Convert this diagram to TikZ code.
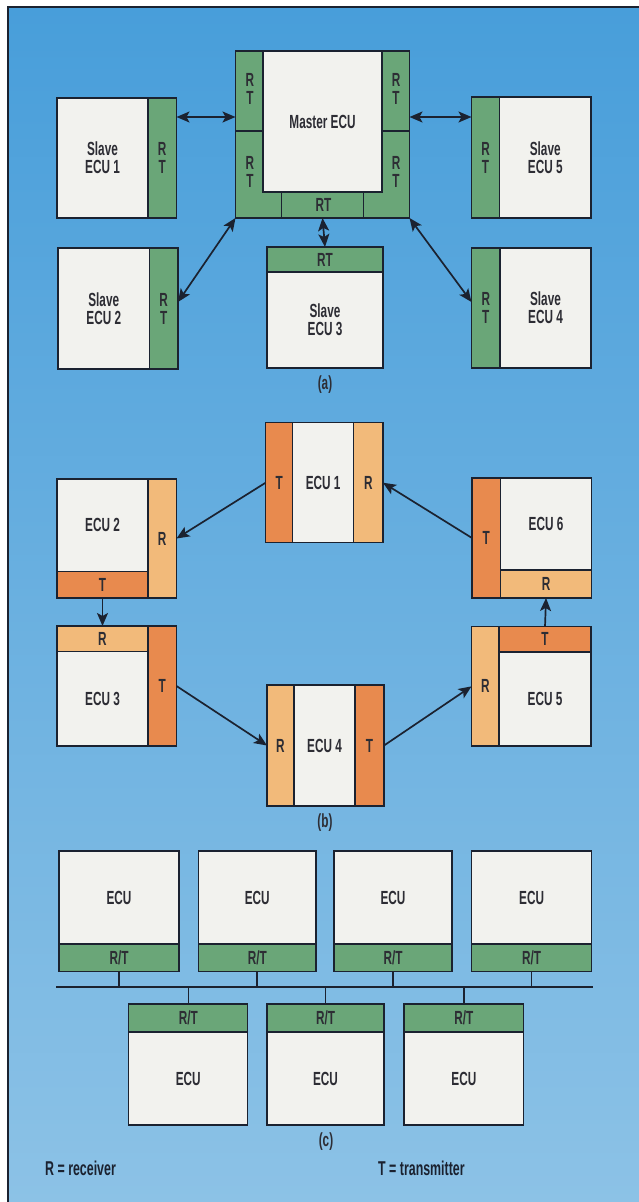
\documentclass[tikz,border=0pt]{standalone}
\usepackage{fontspec}
\setmainfont{Liberation Sans}[FakeStretch=0.62]
\usepackage{tikz}
\usetikzlibrary{arrows.meta}
\definecolor{bgtop}{RGB}{72,158,218}
\definecolor{bgbot}{RGB}{140,194,230}
\definecolor{ecupaper}{RGB}{242,242,238}
\definecolor{rtgreen}{RGB}{106,166,120}
\definecolor{txorange}{RGB}{232,138,78}
\definecolor{rxorange}{RGB}{242,186,122}
\definecolor{inkline}{RGB}{27,34,48}
\definecolor{inktext}{RGB}{45,45,52}

\begin{document}
\begin{tikzpicture}[x=1pt,y=-1pt]
  \tikzset{sz/.style 2 args={minimum width=#1,minimum height=#2}}
  \tikzset{panel/.style={draw=inkline,line width=1.3pt,inner sep=0pt,outer sep=0pt,text=inktext,align=center,
      font=\bfseries\fontsize{19}{18}\selectfont}}
  \tikzset{whitebox/.style={panel,fill=ecupaper}}
  \tikzset{rtbox/.style={panel,fill=rtgreen}}
  \tikzset{txbox/.style={panel,fill=txorange}}
  \tikzset{rxbox/.style={panel,fill=rxorange}}
  \tikzset{stripname/.style={inner sep=0pt,text=inktext,align=center,font=\bfseries\fontsize{19}{18}\selectfont}}
  \tikzset{divider/.style={draw=inkline,line width=1.3pt}}
  \tikzset{biarrow/.style={draw=inkline,line width=1.7pt,{Stealth[length=13pt,width=11pt,inset=3pt]}-{Stealth[length=13pt,width=11pt,inset=3pt]}}}
  \tikzset{onearrow/.style={draw=inkline,line width=1.7pt,-{Stealth[length=13pt,width=11pt,inset=3pt]}}}
  \tikzset{busline/.style={draw=inkline,line width=1.6pt}}
  \tikzset{caption/.style={inner sep=0pt,text=inktext,font=\bfseries\fontsize{19}{18}\selectfont}}
  \tikzset{legend/.style={inner sep=0pt,anchor=west,text=inkline,font=\bfseries\fontsize{20}{20}\selectfont}}
  \useasboundingbox (0,0) rectangle (639,1202);
  \fill[white] (0,0) rectangle (639,1202);
  \shade[top color=bgtop,bottom color=bgbot] (8,7) rectangle (639,1202);
  \draw[draw=inkline,line width=1.5pt] (8,1202) -- (8,7) -- (639,7);

  \node[whitebox,sz={91}{120}] (se1) at (102.5,158) {Slave\\ECU 1};
  \node[rtbox,sz={28.5}{120},anchor=west] (se1rt) at (se1.east) {R\\T};
  \node[rtbox,sz={174}{167}] (mframe) at (322.5,134.5) {};
  \node[whitebox,sz={119}{141},anchor=north] (master) at (mframe.north) {Master ECU};
  \draw[divider] (mframe.west |- 0,131) -- (master.west |- 0,131);
  \draw[divider] (master.east |- 0,131) -- (mframe.east |- 0,131);
  \draw[divider] (master.south west) ++(18.5,0) -- ++(0,26);
  \draw[divider] (master.south east) ++(-18.5,0) -- ++(0,26);
  \node[stripname] (mrt1) at (250,89) {R\\T};
  \node[stripname] (mrt2) at (250,172) {R\\T};
  \node[stripname] (mrt3) at (396,89) {R\\T};
  \node[stripname] (mrt4) at (396,172) {R\\T};
  \node[stripname] (mrt5) at (323.5,205) {RT};
  \node[whitebox,sz={91.5}{121}] (se5) at (545.25,157.5) {Slave\\ECU 5};
  \node[rtbox,sz={28}{121},anchor=east] (se5rt) at (se5.west) {R\\T};
  \node[whitebox,sz={91.5}{121}] (se2) at (103.75,308.5) {Slave\\ECU 2};
  \node[rtbox,sz={28.5}{121},anchor=west] (se2rt) at (se2.east) {R\\T};
  \node[whitebox,sz={116}{96}] (se3) at (325,320) {Slave\\ECU 3};
  \node[rtbox,sz={116}{25},anchor=south] (se3rt) at (se3.north) {RT};
  \node[whitebox,sz={91}{120}] (se4) at (545.5,308) {Slave\\ECU 4};
  \node[rtbox,sz={28.5}{120},anchor=east] (se4rt) at (se4.west) {R\\T};
  \draw[biarrow] (se1rt.east |- 0,117) -- (mframe.west |- 0,117);
  \draw[biarrow] (mframe.east |- 0,117) -- (se5rt.west |- 0,117);
  \draw[biarrow] (mframe.south) -- (se3rt.north);
  \draw[biarrow] (mframe.south west) -- (se2rt.east |- 0,302);
  \draw[biarrow] (mframe.south east) -- (se4rt.west |- 0,302);
  \node[caption] (capa) at (325,385) {(a)};

  \node[whitebox,sz={61}{120}] (e1) at (323.15,482.7) {ECU 1};
  \node[txbox,sz={27}{120},anchor=east] (e1t) at (e1.west) {T};
  \node[rxbox,sz={29.3}{120},anchor=west] (e1r) at (e1.east) {R};
  \node[whitebox,sz={91}{92.7}] (e2) at (102.5,525.35) {ECU 2};
  \node[txbox,sz={91}{26.3},anchor=north] (e2t) at (e2.south) {T};
  \node[rxbox,sz={28.5}{119},anchor=north west] (e2r) at (e2.north east) {R};
  \node[whitebox,sz={91.3}{92}] (e6) at (546.05,524) {ECU 6};
  \node[rxbox,sz={91.3}{28},anchor=north] (e6r) at (e6.south) {R};
  \node[txbox,sz={28.4}{120},anchor=north east] (e6t) at (e6.north west) {T};
  \node[whitebox,sz={91}{94.3}] (e3) at (102.5,698.85) {ECU 3};
  \node[rxbox,sz={91}{25.7},anchor=south] (e3r) at (e3.north) {R};
  \node[txbox,sz={28.5}{120},anchor=south west] (e3t) at (e3.south east) {T};
  \node[whitebox,sz={92}{94}] (e5) at (545,699) {ECU 5};
  \node[txbox,sz={92}{25.3},anchor=south] (e5t) at (e5.north) {T};
  \node[rxbox,sz={27.5}{119.3},anchor=south east] (e5r) at (e5.south west) {R};
  \node[whitebox,sz={61}{121}] (e4) at (324.5,745.5) {ECU 4};
  \node[rxbox,sz={27}{121},anchor=east] (e4r) at (e4.west) {R};
  \node[txbox,sz={29}{121},anchor=west] (e4t) at (e4.east) {T};
  \draw[onearrow] (e1t.west) -- (e2r.east);
  \draw[onearrow] (e6t.west) -- (e1r.east);
  \draw[onearrow] (e2t.south) -- (e3r.north);
  \draw[onearrow] (e3t.east) -- (e4r.west);
  \draw[onearrow] (e4t.east) -- (e5r.west);
  \draw[onearrow] (e5t.north) -- (e6r.south);
  \node[caption] (capb) at (325,823) {(b)};

  \node[whitebox,sz={120}{93}] (c1) at (119,897.5) {ECU};
  \node[rtbox,sz={120}{27.7},anchor=north] (c1rt) at (c1.south) {R/T};
  \node[whitebox,sz={117.5}{93}] (c2) at (257.25,897.5) {ECU};
  \node[rtbox,sz={117.5}{27.7},anchor=north] (c2rt) at (c2.south) {R/T};
  \node[whitebox,sz={118}{93}] (c3) at (393,897.5) {ECU};
  \node[rtbox,sz={118}{27.7},anchor=north] (c3rt) at (c3.south) {R/T};
  \node[whitebox,sz={120.2}{93}] (c4) at (531.6,897.5) {ECU};
  \node[rtbox,sz={120.2}{27.7},anchor=north] (c4rt) at (c4.south) {R/T};
  \node[whitebox,sz={119}{93}] (c5) at (188.3,1078.5) {ECU};
  \node[rtbox,sz={119}{28},anchor=south] (c5rt) at (c5.north) {R/T};
  \node[whitebox,sz={117}{93}] (c6) at (325.5,1078.5) {ECU};
  \node[rtbox,sz={117}{28},anchor=south] (c6rt) at (c6.north) {R/T};
  \node[whitebox,sz={119.7}{93}] (c7) at (463.85,1078.5) {ECU};
  \node[rtbox,sz={119.7}{28},anchor=south] (c7rt) at (c7.north) {R/T};
  \coordinate (busw) at (56,987);
  \coordinate (buse) at (593,987);
  \draw[busline] (busw) -- (buse);
  \draw[busline] (c1rt.south) -- (c1rt.south |- busw);
  \draw[busline] (c2rt.south) -- (c2rt.south |- busw);
  \draw[busline] (c3rt.south) -- (c3rt.south |- busw);
  \draw[busline] (c4rt.south) -- (c4rt.south |- busw);
  \draw[busline] (c5rt.north) -- (c5rt.north |- busw);
  \draw[busline] (c6rt.north) -- (c6rt.north |- busw);
  \draw[busline] (c7rt.north) -- (c7rt.north |- busw);
  \node[caption] (capc) at (326,1142) {(c)};
  \node[legend] (legr) at (45,1168) {R = receiver};
  \node[legend] (legt) at (378,1168) {T = transmitter};
\end{tikzpicture}
\end{document}
